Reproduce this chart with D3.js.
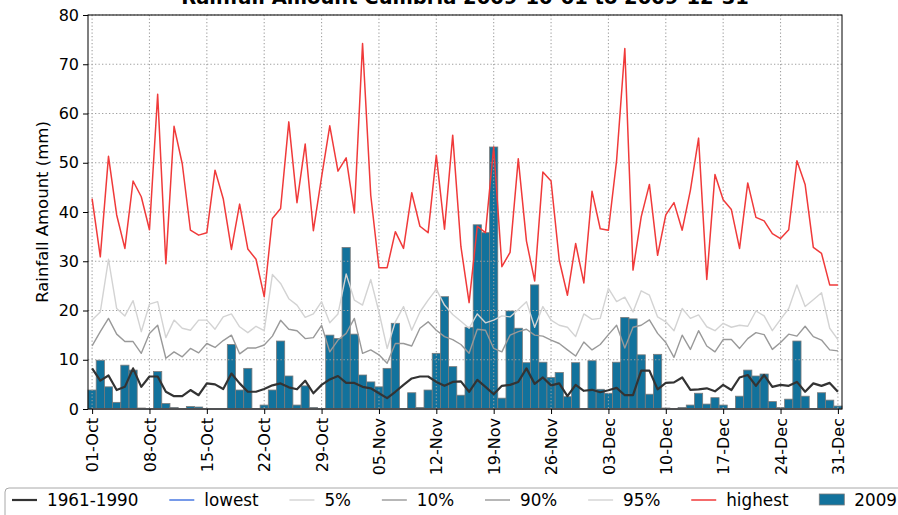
<!DOCTYPE html>
<html>
<head>
<meta charset="utf-8">
<script src="https://cdn.jsdelivr.net/npm/d3@7"></script>
<style>
  body { margin: 0; background: #fff; }
  svg { display: block; font-family: "DejaVu Sans", sans-serif; }
</style>
</head>
<body>
<svg id="chart" width="898" height="515"></svg>
<script>
// days from 2009-10-01 to 2009-12-31, one value per day
const startDate = new Date(2009, 9, 1);
const tickLabels = ["01-Oct", "08-Oct", "15-Oct", "22-Oct", "29-Oct", "05-Nov", "12-Nov",
  "19-Nov", "26-Nov", "03-Dec", "10-Dec", "17-Dec", "24-Dec", "31-Dec"];
const yTicks = [0, 10, 20, 30, 40, 50, 60, 70, 80];

const rain2009 = [3.85, 9.9, 4.5, 1.35, 8.9, 7.9, 0.2, 0, 7.6, 1.1, 0.3, 0, 0.5, 0.4, 0.1, 0,
  0, 13.1, 3.85, 8.25, 0, 0.8, 3.85, 13.8, 6.7, 0.8, 4.7, 0.3, 0, 15.0, 14.3, 32.8,
  15.2, 6.9, 5.5, 4.5, 8.25, 17.4, 0, 3.3, 0.3, 3.85, 11.3, 22.8, 8.6, 2.8, 16.6, 37.4,
  35.8, 53.2, 2.2, 19.9, 16.4, 9.4, 25.2, 9.5, 6.4, 7.4, 2.5, 9.4, 0, 9.8, 4.0, 3.2,
  9.5, 18.6, 18.3, 11.0, 3.0, 11.1, 0.2, 0.1, 0.3, 0.8, 3.2, 1.0, 2.3, 0.8, 0.1, 2.6,
  7.9, 6.7, 7.1, 1.5, 0.3, 2.0, 13.8, 2.6, 0.1, 3.3, 1.8, 0.6];

const mean6190 = [8.25, 5.75, 6.8, 3.85, 4.5, 8.25, 4.5, 6.6, 6.6, 3.5, 2.6, 2.6, 3.85, 2.8,
  5.2, 5.0, 4.05, 7.2, 5.2, 3.5, 3.5, 4.05, 4.8, 5.2, 4.4, 4.0, 5.75, 3.2, 4.9, 6.0,
  6.7, 5.3, 5.3, 4.5, 4.2, 3.2, 2.2, 3.5, 4.9, 6.2, 6.6, 6.6, 5.5, 4.7, 5.5, 5.6, 3.5,
  5.9, 4.5, 3.0, 4.7, 4.9, 5.5, 8.25, 5.1, 6.4, 4.8, 5.2, 2.6, 4.9, 3.7, 3.9, 3.4, 3.8,
  4.3, 2.8, 2.8, 7.8, 7.8, 4.0, 5.3, 5.4, 6.4, 3.9, 4.0, 4.2, 3.6, 4.9, 3.85, 6.4, 6.9,
  4.7, 6.9, 4.5, 4.9, 4.7, 5.5, 3.5, 5.2, 4.7, 5.3, 3.5];

const lowest = new Array(92).fill(0);
const pct5 = new Array(92).fill(0);
const pct10 = new Array(92).fill(0);

const pct90 = [12.8, 15.7, 18.4, 15.2, 13.7, 13.7, 11.3, 15.35, 17.0, 10.3, 11.6, 10.6, 12.3,
  11.4, 13.3, 12.5, 13.9, 15.0, 11.2, 12.4, 12.4, 13.0, 14.8, 18.0, 16.2, 15.9, 14.3,
  14.5, 17.0, 11.6, 14.0, 15.35, 18.4, 11.3, 12.0, 11.0, 9.3, 13.3, 13.3, 12.8, 16.4,
  17.7, 16.0, 14.7, 14.1, 13.1, 11.3, 16.2, 16.0, 12.3, 11.6, 15.0, 15.7, 16.2, 15.0,
  14.8, 14.0, 13.3, 12.0, 10.75, 13.6, 12.0, 13.1, 15.1, 17.0, 12.4, 16.6, 17.0, 18.1,
  15.35, 13.5, 10.5, 15.0, 12.1, 15.9, 12.8, 11.6, 14.1, 14.1, 12.3, 14.3, 15.5, 15.1,
  12.1, 13.5, 15.2, 14.8, 16.8, 14.7, 14.0, 12.0, 11.8];

const pct95 = [18.05, 19.7, 30.4, 20.4, 18.9, 22.0, 15.7, 21.3, 21.8, 14.5, 18.05, 16.4, 16.0,
  18.05, 18.05, 16.2, 18.7, 19.3, 16.7, 15.5, 16.8, 15.9, 27.3, 25.5, 22.4, 21.1, 18.6,
  19.3, 21.8, 17.5, 19.3, 27.4, 22.1, 21.1, 26.3, 19.7, 12.3, 17.7, 20.8, 16.0, 19.7,
  22.1, 24.3, 21.1, 19.2, 17.8, 16.4, 19.3, 17.5, 18.05, 18.9, 18.7, 20.2, 21.8, 16.6,
  20.8, 18.05, 17.0, 16.6, 14.7, 19.3, 18.2, 18.4, 24.5, 21.8, 22.7, 19.7, 24.0, 23.1,
  18.7, 17.7, 15.9, 20.4, 18.4, 19.1, 16.7, 15.9, 17.4, 16.6, 17.0, 16.8, 19.9, 18.9,
  15.9, 18.2, 20.4, 25.2, 20.8, 22.2, 23.6, 16.4, 14.1];

const highest = [42.7, 30.9, 51.3, 39.4, 32.6, 46.3, 43.1, 36.4, 63.9, 29.5, 57.4, 49.8, 36.3,
  35.3, 35.8, 48.5, 42.7, 32.4, 41.6, 32.5, 30.4, 22.8, 38.7, 40.7, 58.3, 41.9, 53.8,
  36.2, 47.1, 57.5, 48.3, 51.0, 39.8, 74.2, 43.4, 28.7, 28.7, 36.0, 32.6, 43.9, 37.1,
  35.8, 51.5, 36.5, 55.6, 33.0, 21.6, 37.1, 35.8, 53.2, 28.9, 31.8, 50.8, 34.1, 26.0,
  48.1, 46.3, 30.2, 23.1, 33.6, 25.6, 44.2, 36.6, 36.3, 50.5, 73.2, 28.2, 39.0, 45.6,
  31.2, 39.4, 41.9, 36.3, 44.4, 55.0, 26.3, 47.6, 42.5, 40.5, 32.6, 45.9, 38.9, 38.2,
  35.6, 34.6, 36.4, 50.4, 45.6, 32.8, 31.6, 25.2, 25.2];

const lineSeries = [
  { name: "1961-1990", values: mean6190, color: "#333333", width: 2.2 },
  { name: "lowest", values: lowest, color: "#3b6fe0", width: 1.4 },
  { name: "5%", values: pct5, color: "#d3d3d3", width: 1.4 },
  { name: "10%", values: pct10, color: "#999999", width: 1.4 },
  { name: "90%", values: pct90, color: "#999999", width: 1.4 },
  { name: "95%", values: pct95, color: "#d3d3d3", width: 1.4 },
  { name: "highest", values: highest, color: "#f03a3a", width: 1.5 },
];

const dates = d3.timeDay.range(startDate, new Date(2010, 0, 1));

const svg = d3.select("#chart");
const margin = { top: 15, right: 56, bottom: 106, left: 88 };
const w = 898 - margin.left - margin.right;
const h = 515 - margin.top - margin.bottom;

const x = d3.scaleLinear().domain([-0.5, dates.length - 0.5]).range([0, w]);
const y = d3.scaleLinear().domain([0, 80]).range([h, 0]);

const g = svg.append("g").attr("transform", `translate(${margin.left},${margin.top})`);

// bars first, then grid, then lines (matplotlib order)
const bw = x(1) - x(0);
g.append("g")
  .selectAll("rect")
  .data(rain2009)
  .enter()
  .append("rect")
  .attr("x", (d, i) => x(i) - bw / 2)
  .attr("width", bw)
  .attr("y", (d) => y(d))
  .attr("height", (d) => y(0) - y(d))
  .attr("fill", "#12729c")
  .attr("stroke", "#7a7a7a")
  .attr("stroke-width", 0.8);

const tickIdx = tickLabels.map((t, k) => k * 7);

const grid = g.append("g").attr("stroke", "#a0a0a0").attr("stroke-width", 1.1)
  .attr("stroke-dasharray", "1.3,2.2");
grid.selectAll(".gx").data(tickIdx).enter().append("line")
  .attr("x1", (d) => x(d)).attr("x2", (d) => x(d)).attr("y1", 0).attr("y2", h);
grid.selectAll(".gy").data(yTicks).enter().append("line")
  .attr("y1", (d) => y(d)).attr("y2", (d) => y(d)).attr("x1", 0).attr("x2", w);

const line = d3.line().x((d, i) => x(i)).y((d) => y(d));
lineSeries.forEach((s) => {
  g.append("path")
    .datum(s.values)
    .attr("fill", "none")
    .attr("stroke", s.color)
    .attr("stroke-width", s.width)
    .attr("stroke-linejoin", "round")
    .attr("d", line);
});

// frame
g.append("rect").attr("width", w).attr("height", h)
  .attr("fill", "none").attr("stroke", "#000").attr("stroke-width", 1);

// axes
const yAxis = g.append("g")
  .call(d3.axisLeft(y).tickValues(yTicks).tickSize(5).tickPadding(4));
const xAxis = g.append("g").attr("transform", `translate(0,${h})`)
  .call(d3.axisBottom(x).tickValues(tickIdx)
    .tickFormat((d, k) => tickLabels[k]).tickSize(5).tickPadding(4));
[xAxis, yAxis].forEach((a) => {
  a.select(".domain").remove();
  a.selectAll("text").attr("font-size", 16).attr("font-family", "DejaVu Sans").attr("fill", "#000");
});
xAxis.selectAll("text")
  .attr("transform", "rotate(-90)")
  .attr("text-anchor", "end")
  .attr("x", -9).attr("y", 0).attr("dy", "0.35em");

svg.append("text")
  .attr("transform", `translate(48,${margin.top + h / 2}) rotate(-90)`)
  .attr("text-anchor", "middle")
  .attr("font-size", 16.5)
  .text("Rainfall Amount (mm)");

svg.append("text")
  .attr("x", margin.left + w / 2).attr("y", 4)
  .attr("text-anchor", "middle")
  .attr("font-size", 19.5).attr("font-weight", "bold")
  .text("Rainfall Amount Cumbria 2009-10-01 to 2009-12-31");

// legend, one row, spread to fill the width
const legendItems = lineSeries.map((s) => ({ name: s.name, type: "line", s }))
  .concat([{ name: "2009", type: "bar" }]);
const lg = svg.append("g");
lg.append("rect").attr("x", 5).attr("y", 488).attr("width", 900).attr("height", 40)
  .attr("rx", 4).attr("fill", "#fff").attr("stroke", "#a8a8a8").attr("stroke-width", 1);
const handleLen = 25, handlePad = 10, lx0 = 12, lxEnd = 897;
const items = legendItems.map((d) => {
  const t = lg.append("text").attr("font-size", 16.8).attr("y", 506).text(d.name);
  return { d, t, tw: t.node().getComputedTextLength() };
});
const total = d3.sum(items, (it) => handleLen + handlePad + it.tw);
const sep = (lxEnd - lx0 - total) / (items.length - 1);
let cx = lx0;
items.forEach((it) => {
  if (it.d.type === "line") {
    lg.append("line").attr("x1", cx).attr("x2", cx + handleLen).attr("y1", 500).attr("y2", 500)
      .attr("stroke", it.d.s.color).attr("stroke-width", it.d.s.width);
  } else {
    lg.append("rect").attr("x", cx).attr("y", 494).attr("width", handleLen).attr("height", 11)
      .attr("fill", "#12729c").attr("stroke", "#7a7a7a").attr("stroke-width", 0.8);
  }
  it.t.attr("x", cx + handleLen + handlePad);
  cx += handleLen + handlePad + it.tw + sep;
});
</script>
</body>
</html>
